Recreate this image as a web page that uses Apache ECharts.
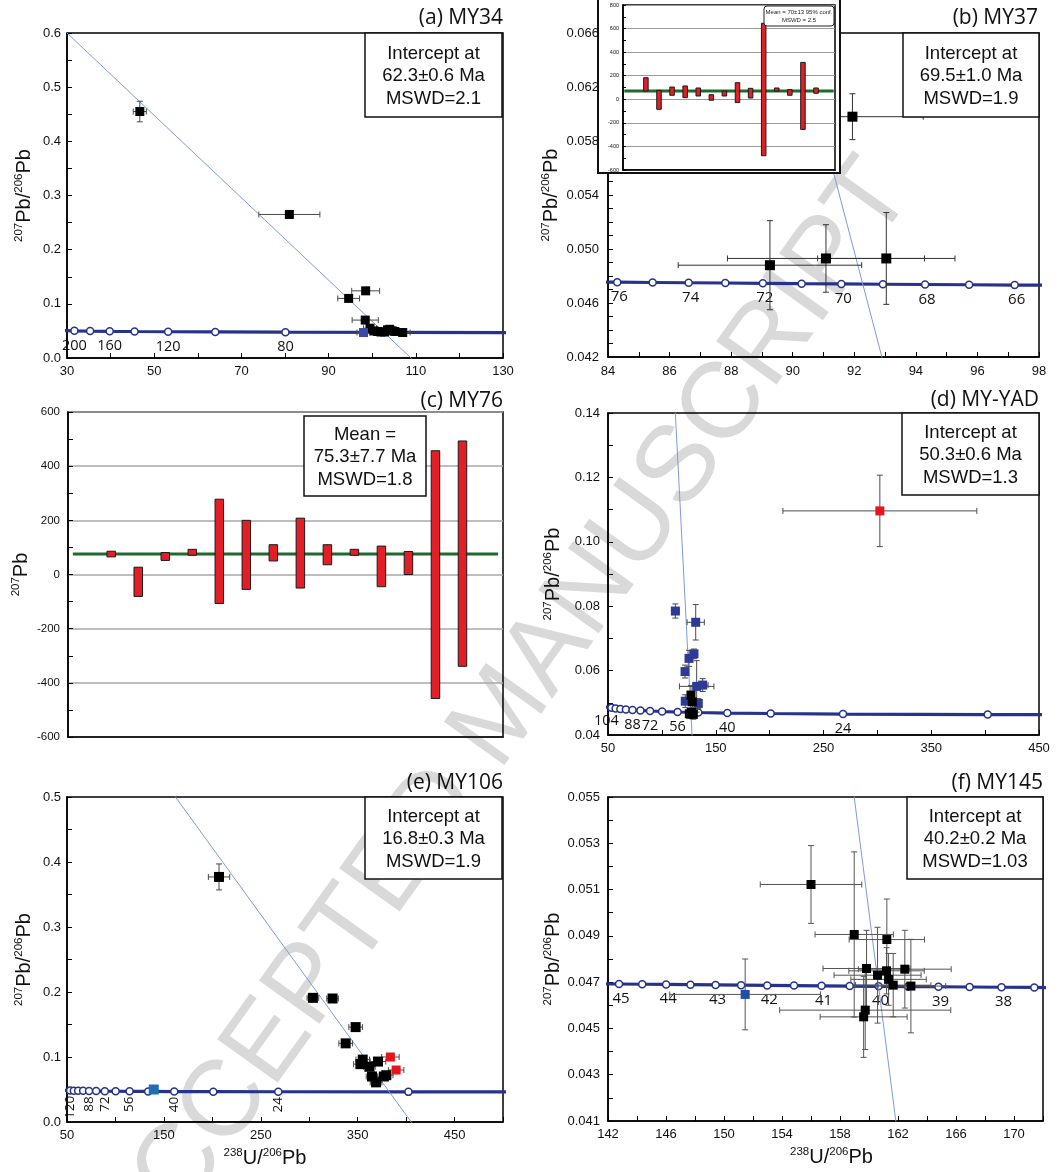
<!DOCTYPE html>
<html><head><meta charset="utf-8">
<script src="https://cdn.jsdelivr.net/npm/echarts/dist/echarts.min.js"></script>
<style>html,body{margin:0;padding:0;background:#fff}#c{width:1064px;height:1172px}</style>
</head><body><div id="c"></div>
<script>
// ---------------- DATA ----------------
// (a) MY34
const aConcAge = [220,200,180,160,140,120,100,80,60,40];
const aConcX   = [28.8,31.7,35.3,39.8,45.5,53.2,64.0,80.1,106.9,160.7];
const aConcY   = [0.0505,0.0501,0.0497,0.0493,0.0489,0.0485,0.0481,0.0476,0.0472,0.0468];
const aConcLab = [200,160,120,80];
const aBlack = [[46.7,0.455,1.5,0.019],[81.0,0.265,7.0,0.006],[94.6,0.110,2.5,0.005],[98.5,0.124,3.2,0.006],
  [98.4,0.070,3.0,0.005],[99.5,0.055,1.5,0.004],[100.4,0.050,1.2,0.003],[101.2,0.049,1.2,0.003],[102.0,0.048,1.2,0.003],
  [102.8,0.048,1.0,0.003],[103.5,0.052,1.3,0.003],[104.0,0.053,1.2,0.003],[104.6,0.050,1.2,0.003],[105.2,0.049,1.0,0.003],[107.0,0.047,1.7,0.003]];
const aBlue = [[98.0,0.047,1.5,0.003]];
const aDisc = [[29.0,0.6076],[110.0,-0.0084]];
// (b) MY37
const bConcAge = [77,76,75,74,73,72,71,70,69,68,67,66,65];
const bConcX   = [83.2,84.3,85.45,86.62,87.81,89.03,90.29,91.58,92.93,94.30,95.73,97.21,98.7];
const bConcY   = [0.04756,0.04754,0.04752,0.04750,0.04748,0.04746,0.04743,0.04741,0.04739,0.04737,0.04735,0.04733,0.04731];
const bConcLab = [76,74,72,70,68,66];
const bBlack = [[89.26,0.0488,2.98,0.0033],[91.08,0.0493,3.2,0.0025],[93.04,0.0493,2.23,0.0034],[91.94,0.0598,2.3,0.0017]];
const bDisc = [[89.0,0.0759],[93.0,0.0411]];
const bInsetBars = [[70,183],[-85,76],[34,104],[14,113],[28,96],[-8,39],[28,70],[-28,141],[11,93],[-479,645],[70,96],[34,82],[-256,313],[51,96]];
const bInsetMean = 70;
// (c) MY76
const cBars = [[65,86],[-81,27],[52,81],[71,93],[-107,278],[-55,200],[50,110],[-50,208],[36,110],[71,93],[-45,105],[0,85],[-458,457],[-339,493]];
const cMean = 75.3;
// (d) and (e) concordia
const deConcAge = [136,128,120,112,104,96,88,80,72,64,56,48,40,32,24,16,8];
const deConcX   = [46.9,49.87,53.22,57.06,61.49,66.65,72.75,80.09,89.03,100.2,114.6,133.8,160.7,201.0,268.1,402.4,805];
const deConcY   = [0.04876,0.04859,0.04843,0.04826,0.04809,0.04794,0.04777,0.04762,0.04745,0.04729,0.04714,0.04698,0.04682,0.04667,0.04651,0.04635,0.04620];
const dConcLab = [104,88,72,56,40,24];
const eConcLab = [120,88,72,56,40,24];
// (d) MY-YAD
const dBlue = [[112.5,0.0785,3.5,0.0022],[131.4,0.0750,8.0,0.0055],[125.2,0.0638,2.5,0.0025],[129.8,0.0652,2.5,0.0015],
  [121.5,0.0597,2.5,0.0020],[132.3,0.0551,16,0.0080],[137.9,0.0555,5,0.0020],[121.7,0.0505,3,0.0020],[133.8,0.0498,3,0.0015]];
const dBlack = [[127.0,0.0524,2.5,0.0030],[128.2,0.0503,2.5,0.0030],[125.5,0.0466,2.5,0.0015],[129.2,0.0464,2.5,0.0015],[127.5,0.0470,2,0.0015]];
const dRed = [[302.3,0.1096,90,0.0111]];
const dDisc = [[111.0,0.1497],[129.0,0.0335]];
// (e) MY106
const eBlack = [[206.9,0.377,11,0.020],[303.8,0.191,6,0.004],[324.1,0.190,6,0.004],[347.9,0.146,7,0.004],[337.6,0.121,7,0.004],
  [355.2,0.096,7,0.004],[352.8,0.089,7,0.004],[362.1,0.085,6,0.004],[371.0,0.093,8,0.004],[364.8,0.070,6,0.004],
  [369.0,0.061,6,0.004],[377.0,0.070,7,0.004],[379.5,0.072,7,0.004]];
const eRed = [[383.8,0.100,9,0.003],[389.7,0.080,8,0.003]];
const eBlue = [[139.5,0.050,4,0.002]];
const eDisc = [[160.0,0.5041],[407.0,-0.0037]];
// (f) MY145
const fConcAge = [45.5,45,44.5,44,43.5,43,42.5,42,41.5,41,40.5,40,39.5,39,38.5,38,37.5,37];
const fConcX   = [141.18,142.76,144.36,146.01,147.69,149.42,151.18,152.98,154.83,156.73,158.67,160.66,162.70,164.79,166.94,169.14,171.4,173.73];
const fConcY   = [0.04693,0.04692,0.04691,0.04690,0.04689,0.04688,0.04687,0.04686,0.04685,0.04684,0.04683,0.04682,0.04681,0.04680,0.04679,0.04678,0.04677,0.04676];
const fConcLab = [45,44,43,42,41,40,39,38];
const fBlack = [[156.0,0.05122,3.5,0.00168],[158.98,0.04906,2.7,0.00357],[161.23,0.04884,2.6,0.00175],[159.83,0.04759,3.0,0.00165],
  [160.59,0.04730,3.0,0.00207],[161.21,0.04749,2.6,0.00100],[162.47,0.04756,3.2,0.00168],[161.35,0.04712,2.6,0.00112],
  [161.67,0.04687,2.6,0.00137],[162.89,0.04683,2.4,0.00202],[159.74,0.04579,5.9,0.00170],[159.63,0.04550,3.0,0.00175]];
const fBlue = [[151.46,0.04647,5.2,0.00153]];
const fDisc = [[158.8,0.05588],[162.0,0.04027]];

// text content
const titles = ['(a) MY34','(b) MY37','(c) MY76','(d) MY-YAD','(e) MY106','(f) MY145'];
const boxTexts = ['Intercept at\n62.3±0.6 Ma\nMSWD=2.1','Intercept at\n69.5±1.0 Ma\nMSWD=1.9','Mean =\n75.3±7.7 Ma\nMSWD=1.8',
  'Intercept at\n50.3±0.6 Ma\nMSWD=1.3','Intercept at\n16.8±0.3 Ma\nMSWD=1.9','Intercept at\n40.2±0.2 Ma\nMSWD=1.03'];
const insetText = 'Mean = 70±13 95% conf.\nMSWD = 2.5';
const watermark = 'ACCEPTED MANUSCRIPT';

// ---------------- STYLE / LAYOUT ----------------
const NAVY = '#27328a';
const TF = 'Liberation Sans, Arial, sans-serif';
const OF = '"Open Sans", sans-serif';
const grids = [
  {left:67, top:33, width:436, height:325},
  {left:608, top:33, width:431, height:324},
  {left:623, top:5, width:212, height:165},
  {left:68, top:412, width:435, height:325},
  {left:608, top:413, width:431, height:322},
  {left:67, top:797, width:436, height:325},
  {left:608, top:797, width:435, height:324}
].map((g,i)=>Object.assign({show:true, borderColor:'#000', borderWidth:1.5, outerBoundsMode:'none', containLabel:false,
  backgroundColor: i===2 ? '#fff' : 'transparent', z: i===2 ? 61 : 1}, g));

function fmt(min, labStep, dec, maxLab){
  return function(v){
    const k = (v-min)/labStep;
    if (Math.abs(k-Math.round(k))<1e-6 && (maxLab===undefined || v<=maxLab+1e-9)) return v.toFixed(dec);
    return '';
  };
}
const richName = {
  s:{fontSize:11.5, fontFamily:TF, color:'#111', verticalAlign:'top', lineHeight:13},
  p:{fontSize:20, fontFamily:TF, color:'#111', lineHeight:22}
};
function vAxis(gi, min, max, step, labStep, dec, o){
  o = o || {};
  const ax = {
    type:'value', gridIndex:gi, min:min, max:max, interval:step, z:o.z||1,
    axisLine:{show:true, onZero:false, lineStyle:{color:'#000', width:1.5}},
    axisTick:{show:o.tick!==false, inside:true, length:o.tickLen||5, lineStyle:{color:'#000', width:1}},
    axisLabel:{show:o.label!==false, color:'#111', fontSize:o.fs||13, fontFamily:TF, margin:o.margin||7,
      formatter: fmt(min, labStep, dec, o.maxLab)},
    splitLine:{show:false},
    nameMoveOverlap:false
  };
  if (o.name){
    ax.name = o.name; ax.nameLocation='middle'; ax.nameGap=o.nameGap;
    ax.nameTextStyle = {rich:richName, padding:o.namePad||0};
  }
  if (o.split) ax.splitLine = {show:true, lineStyle:{color:o.split, width:o.splitW||1.5}};
  if (o.minor) { ax.minorTick = {show:true, splitNumber:2, length:o.tickLen||5, lineStyle:{color:'#000', width:1}}; }
  return ax;
}
const YN = '{s|207}{p|Pb/}{s|206}{p|Pb}';
const XN = '{s|238}{p|U/}{s|206}{p|Pb}';

const xAxes = [
  vAxis(0, 30, 130, 10, 20, 0),
  vAxis(1, 84, 98, 1, 2, 0, {margin:8}),
  vAxis(2, -0.75, 15.45, 1, 100, 0, {tick:false, label:false, z:62}),
  vAxis(3, -0.6, 15.5, 1, 100, 0, {tick:false, label:false}),
  vAxis(4, 50, 450, 50, 100, 0),
  vAxis(5, 50, 500, 50, 100, 0, {maxLab:450, name:XN, nameGap:25, namePad:[0,40,0,0]}),
  vAxis(6, 142, 172, 2, 4, 0, {maxLab:170, name:XN, nameGap:25, namePad:[0,0,0,12]})
];
const yAxes = [
  vAxis(0, 0, 0.6, 0.05, 0.1, 1, {name:YN, nameGap:32, margin:6}),
  vAxis(1, 0.042, 0.066, 0.001, 0.004, 3, {name:YN, nameGap:46, margin:9}),
  vAxis(2, -600, 800, 200, 200, 0, {fs:5.5, margin:4, tickLen:3, minor:true, split:'#9a9a9a', splitW:1, z:62}),
  vAxis(3, -600, 600, 200, 200, 0, {fs:11.5, margin:8, minor:true, split:'#a8a8a8', splitW:1.5,
        name:'{s|207}{p|Pb}', nameGap:36}),
  vAxis(4, 0.04, 0.14, 0.01, 0.02, 2, {name:YN, nameGap:44, margin:8}),
  vAxis(5, 0, 0.5, 0.05, 0.1, 1, {name:YN, nameGap:32, margin:6}),
  vAxis(6, 0.041, 0.055, 0.001, 0.002, 3, {name:YN, nameGap:44, margin:8})
];

// ---------------- SERIES BUILDERS ----------------
function concSeries(gi, ages, xs, ys, labs, labOpt, labShift){
  labShift = labShift || {};
  return {type:'line', xAxisIndex:gi, yAxisIndex:gi, z:2, silent:true, animation:false, clip:true,
    symbol:'circle', symbolSize:7, showSymbol:true, showAllSymbol:true,
    lineStyle:{color:NAVY, width:3.2}, itemStyle:{color:'#fff', borderColor:NAVY, borderWidth:1.5},
    label:Object.assign({show:false, position:'bottom', distance:3, color:'#111', fontSize:14.5, fontFamily:OF}, labOpt||{}),
    data: ages.map((a,i)=>{
      const lab = {show: labs.indexOf(a)>=0, formatter:String(a)};
      if (labShift[a]) lab.offset = labShift[a];
      return {value:[xs[i], ys[i]], label:lab};
    })};
}
function discSeries(gi, pts){
  return {type:'line', xAxisIndex:gi, yAxisIndex:gi, z:3, silent:true, animation:false, clip:true,
    symbol:'none', lineStyle:{color:'#7f9ad8', width:1}, data:pts};
}
function errSeries(gi, data, col){
  return {type:'custom', xAxisIndex:gi, yAxisIndex:gi, z:4, silent:true, animation:false, clip:true,
    encode:{x:0, y:1}, data:data,
    renderItem:function(p, api){
      const x=api.value(0), y=api.value(1), xe=api.value(2), ye=api.value(3);
      const c=api.coord([x,y]), l=api.coord([x-xe,y]), r=api.coord([x+xe,y]);
      const t=api.coord([x,y+ye]), b=api.coord([x,y-ye]);
      const st={stroke:col||'#4a4a4a', lineWidth:1};
      const cap=3;
      return {type:'group', children:[
        {type:'line', shape:{x1:l[0],y1:c[1],x2:r[0],y2:c[1]}, style:st},
        {type:'line', shape:{x1:l[0],y1:c[1]-cap,x2:l[0],y2:c[1]+cap}, style:st},
        {type:'line', shape:{x1:r[0],y1:c[1]-cap,x2:r[0],y2:c[1]+cap}, style:st},
        {type:'line', shape:{x1:c[0],y1:t[1],x2:c[0],y2:b[1]}, style:st},
        {type:'line', shape:{x1:c[0]-cap,y1:t[1],x2:c[0]+cap,y2:t[1]}, style:st},
        {type:'line', shape:{x1:c[0]-cap,y1:b[1],x2:c[0]+cap,y2:b[1]}, style:st}
      ]};
    }};
}
function ptSeries(gi, data, col, size){
  return {type:'scatter', xAxisIndex:gi, yAxisIndex:gi, z:5, silent:true, animation:false,
    symbol:'rect', symbolSize:size||9, itemStyle:{color:col, opacity:1}, data:data.map(d=>[d[0],d[1]])};
}
function barSeries(gi, bars, w, z){
  return {type:'custom', xAxisIndex:gi, yAxisIndex:gi, z:z, silent:true, animation:false, clip:true,
    encode:{x:0, y:[1,2]}, data:bars.map((b,i)=>[i+1, b[0], b[1]]),
    renderItem:function(p, api){
      const lo=api.coord([api.value(0), api.value(1)]), hi=api.coord([api.value(0), api.value(2)]);
      return {type:'rect', shape:{x:lo[0]-w/2, y:hi[1], width:w, height:lo[1]-hi[1]},
        style:{fill:'#e21f26', stroke:'#1a1a1a', lineWidth:1}};
    }};
}
function meanSeries(gi, m, x0, x1, z){
  return {type:'line', xAxisIndex:gi, yAxisIndex:gi, z:z, silent:true, animation:false, symbol:'none',
    lineStyle:{color:'#1c6b2c', width:3}, data:[[x0,m],[x1,m]]};
}

const series = [
  // (a)
  concSeries(0, aConcAge, aConcX, aConcY, aConcLab),
  discSeries(0, aDisc),
  errSeries(0, aBlack.concat(aBlue)),
  ptSeries(0, aBlack, '#000'), ptSeries(0, aBlue, '#3a49a8'),
  // (b)
  concSeries(1, bConcAge, bConcX, bConcY, bConcLab, {offset:[2,0], fontSize:15}),
  discSeries(1, bDisc),
  errSeries(1, bBlack, '#333'),
  ptSeries(1, bBlack, '#000', 10),
  // (b) inset
  meanSeries(2, bInsetMean, -0.65, 15.35, 63),
  barSeries(2, bInsetBars, 4.5, 64),
  // (c)
  meanSeries(3, cMean, -0.42, 15.32, 2),
  barSeries(3, cBars, 8.5, 3),
  // (d)
  concSeries(4, deConcAge, deConcX, deConcY, dConcLab, null, {104:[-14,-3]}),
  discSeries(4, dDisc),
  errSeries(4, dBlue.concat(dBlack).concat(dRed)),
  ptSeries(4, dBlue, '#2d3a96'), ptSeries(4, dBlack, '#000'), ptSeries(4, dRed, '#e8141c'),
  // (e)
  concSeries(5, deConcAge, deConcX, deConcY, eConcLab, {rotate:90, align:'right', verticalAlign:'middle', distance:1, fontSize:13.5}),
  discSeries(5, eDisc),
  errSeries(5, eBlack.concat(eRed).concat(eBlue)),
  ptSeries(5, eBlack, '#000', 10), ptSeries(5, eRed, '#e8141c'), ptSeries(5, eBlue, '#1f6fb8', 10),
  // (f)
  concSeries(6, fConcAge, fConcX, fConcY, fConcLab, {offset:[2,0], fontSize:15}),
  discSeries(6, fDisc),
  errSeries(6, fBlack.concat(fBlue), '#555'),
  ptSeries(6, fBlack, '#000'), ptSeries(6, fBlue, '#1f4fa6')
];

// ---------------- GRAPHICS (titles, boxes, inset frame, watermark) ----------------
const titlePos = [[503,18],[1038,18],[503,401],[1039,400],[503,783],[1043,783]];
const boxRects = [[365,33,137,84],[903,33,136,84],[304,416,122,80],[902,413,137,82],[365,797,137,82],[907,797,136,82]];
const g = [];
g.push({type:'text', x:503, y:716, rotation:0.95, z:0, silent:true,
  style:{text:watermark, font:'108px Liberation Sans, Arial', fill:'#d9d9d9', align:'center', verticalAlign:'middle',
    textAlign:'center', textVerticalAlign:'middle'}});
titles.forEach((t,i)=>g.push({type:'text', x:titlePos[i][0], y:titlePos[i][1], z:70, silent:true,
  style:{text:t, font:'21px '+OF, fill:'#111', align:'right', verticalAlign:'middle', textAlign:'right', textVerticalAlign:'middle'}}));
boxRects.forEach((r,i)=>{
  g.push({type:'rect', x:r[0], y:r[1], z:50, silent:true, shape:{x:0,y:0,width:r[2],height:r[3]},
    style:{fill:'#fff', stroke:'#111', lineWidth:1.5}});
  g.push({type:'text', x:r[0]+r[2]/2, y:r[1]+r[3]/2+1, z:51, silent:true,
    style:{text:boxTexts[i], font:'18.5px '+TF, fill:'#111', lineHeight:22.5, align:'center', verticalAlign:'middle',
      textAlign:'center', textVerticalAlign:'middle'}});
});
// inset outer frame
g.push({type:'rect', x:598, y:-3, z:60, silent:true, shape:{x:0,y:0,width:242,height:176},
  style:{fill:'#fff', stroke:'#111', lineWidth:2}});
g.push({type:'rect', x:764, y:6, z:65, silent:true, shape:{x:0,y:0,width:70,height:20, r:3},
  style:{fill:'#fff', stroke:'#222', lineWidth:1}});
g.push({type:'text', x:799, y:16.5, z:66, silent:true,
  style:{text:insetText, font:'6px '+TF, fill:'#222', lineHeight:8.5, align:'center', verticalAlign:'middle',
    textAlign:'center', textVerticalAlign:'middle'}});

const chart = echarts.init(document.getElementById('c'), null, {renderer:'canvas', width:1064, height:1172});
chart.setOption({
  backgroundColor:'#fff',
  animation:false,
  grid: grids,
  xAxis: xAxes,
  yAxis: yAxes,
  series: series,
  graphic: {elements: g}
});
</script></body></html>
